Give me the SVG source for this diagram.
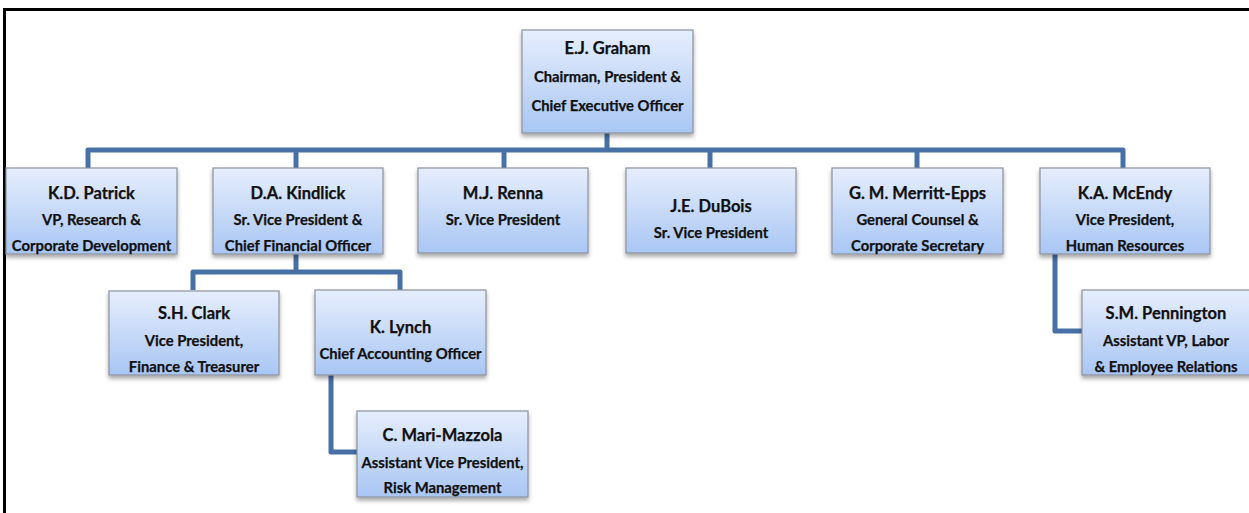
<svg xmlns="http://www.w3.org/2000/svg" width="1249" height="513" viewBox="0 0 1249 513">
<style>
.box{fill:url(#g);stroke:#8c929c;stroke-width:1.2;filter:url(#sh)}
.conn{fill:none;stroke:#4670a6;stroke-width:5;stroke-linejoin:round;stroke-linecap:butt}
text{font-family:Lato,"Liberation Sans",sans-serif;font-weight:bold;fill:#111;text-anchor:middle;stroke:#111;stroke-width:0.25}
.n{font-size:16.5px}
.t{font-size:14.8px}
</style>
<defs>
<linearGradient id="g" x1="0" y1="0" x2="0" y2="1">
<stop offset="0" stop-color="#e6eefc"/>
<stop offset="1" stop-color="#a9c6f4"/>
</linearGradient>
<filter id="sh" x="-10%" y="-10%" width="120%" height="130%">
<feDropShadow dx="0" dy="3" stdDeviation="2" flood-color="#000" flood-opacity="0.35"/>
</filter>
</defs>
<rect width="1249" height="513" fill="#fff"/>
<path d="M4.5 513V9.5H1249" fill="none" stroke="#000" stroke-width="3"/>
<g id="connectors">
<path class="conn" d="M88 168V150H1123V168"/>
<path class="conn" d="M607 133V150"/>
<path class="conn" d="M296 150V168"/>
<path class="conn" d="M504 150V168"/>
<path class="conn" d="M710 150V168"/>
<path class="conn" d="M917 150V168"/>
<path class="conn" d="M296 254V272"/>
<path class="conn" d="M193 290V272H400V290"/>
<path class="conn" d="M331 375V452H357"/>
<path class="conn" d="M1055 254V331H1082"/>
</g>
<g id="graham"><rect class="box" x="522" y="30" width="171" height="103"/>
<text class="n" x="607.5" y="54">E.J. Graham</text>
<text class="t" x="607.5" y="82">Chairman, President &amp;</text>
<text class="t" x="607.5" y="111">Chief Executive Officer</text></g>
<g id="patrick"><rect class="box" x="6" y="168" width="171" height="86"/>
<text class="n" x="91.5" y="199">K.D. Patrick</text>
<text class="t" x="91.5" y="225">VP, Research &amp;</text>
<text class="t" x="91.5" y="251">Corporate Development</text></g>
<g id="kindlick"><rect class="box" x="213" y="168" width="170" height="86"/>
<text class="n" x="298" y="199">D.A. Kindlick</text>
<text class="t" x="298" y="225">Sr. Vice President &amp;</text>
<text class="t" x="298" y="251">Chief Financial Officer</text></g>
<g id="renna"><rect class="box" x="418" y="168" width="170" height="85"/>
<text class="n" x="503" y="199">M.J. Renna</text>
<text class="t" x="503" y="225">Sr. Vice President</text></g>
<g id="dubois"><rect class="box" x="626" y="168" width="170" height="85"/>
<text class="n" x="711" y="212">J.E. DuBois</text>
<text class="t" x="711" y="238">Sr. Vice President</text></g>
<g id="merritt"><rect class="box" x="832" y="168" width="171" height="86"/>
<text class="n" x="917.5" y="199">G. M. Merritt-Epps</text>
<text class="t" x="917.5" y="225">General Counsel &amp;</text>
<text class="t" x="917.5" y="251">Corporate Secretary</text></g>
<g id="mcendy"><rect class="box" x="1040" y="168" width="170" height="86"/>
<text class="n" x="1125" y="199">K.A. McEndy</text>
<text class="t" x="1125" y="225">Vice President,</text>
<text class="t" x="1125" y="251">Human Resources</text></g>
<g id="clark"><rect class="box" x="109" y="291" width="170" height="84"/>
<text class="n" x="194" y="319">S.H. Clark</text>
<text class="t" x="194" y="346">Vice President,</text>
<text class="t" x="194" y="372">Finance &amp; Treasurer</text></g>
<g id="lynch"><rect class="box" x="315" y="290" width="171" height="85"/>
<text class="n" x="400.5" y="333">K. Lynch</text>
<text class="t" x="400.5" y="359">Chief Accounting Officer</text></g>
<g id="marimazzola"><rect class="box" x="357" y="411" width="171" height="86"/>
<text class="n" x="442.5" y="441">C. Mari-Mazzola</text>
<text class="t" x="442.5" y="468">Assistant Vice President,</text>
<text class="t" x="442.5" y="493">Risk Management</text></g>
<g id="pennington"><rect class="box" x="1082" y="290" width="171" height="85"/>
<text class="n" x="1166" y="319">S.M. Pennington</text>
<text class="t" x="1166" y="346">Assistant VP, Labor</text>
<text class="t" x="1166" y="372">&amp; Employee Relations</text></g>
</svg>
